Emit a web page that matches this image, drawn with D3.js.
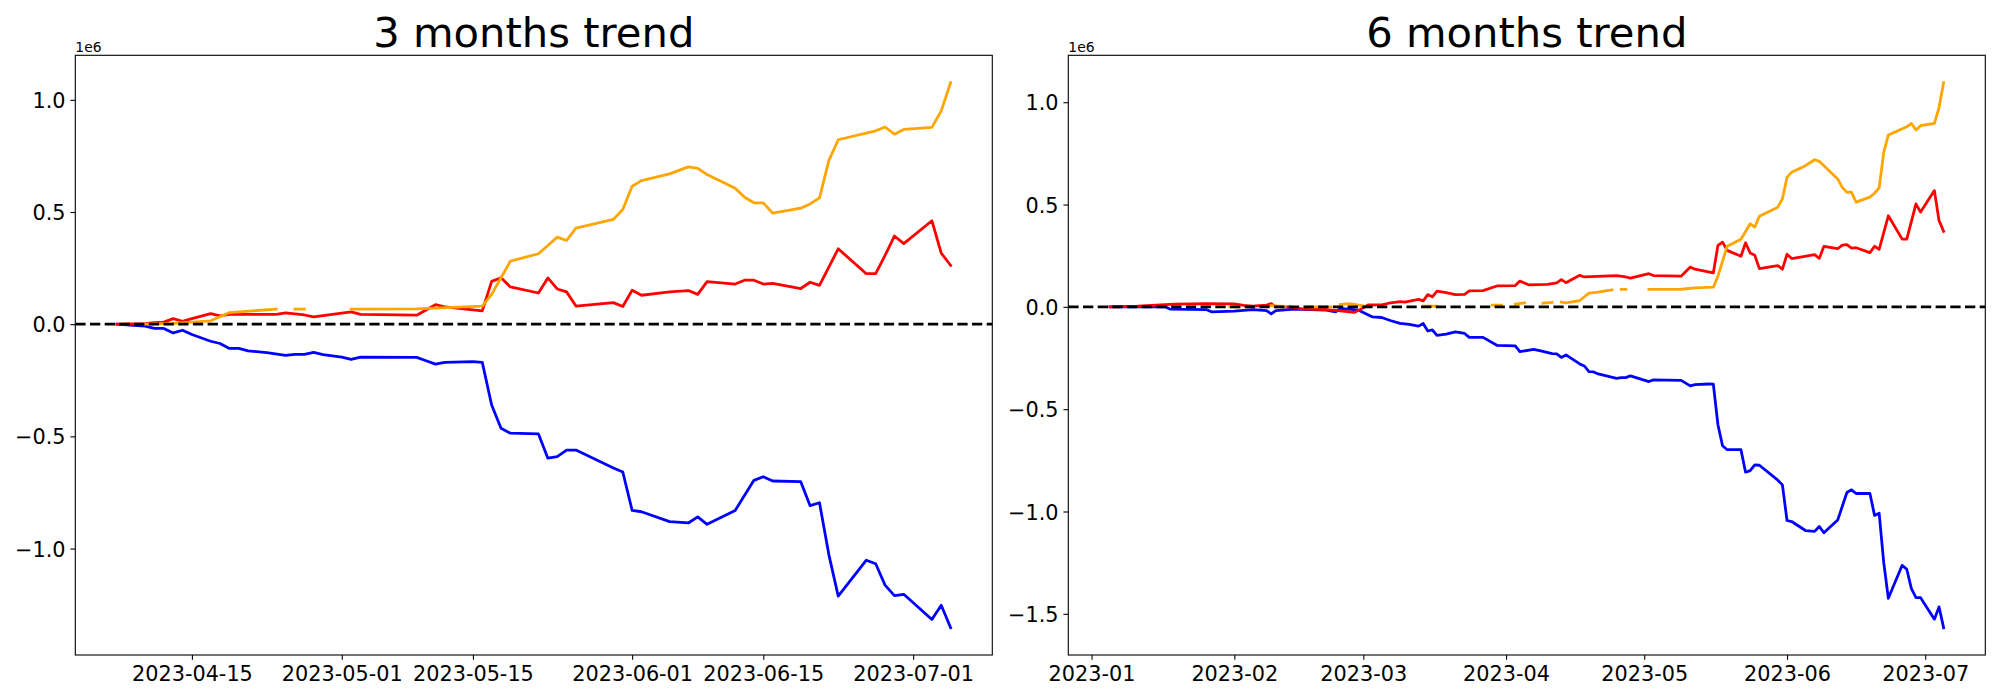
<!DOCTYPE html>
<html><head><meta charset="utf-8">
<script src="https://cdn.jsdelivr.net/npm/d3@7"></script>
<style>body{margin:0;background:#fff}svg{display:block}text{font-family:"DejaVu Sans",sans-serif}</style>
</head><body><svg id="c" width="2000" height="700"></svg>
<script>
// ---------- DATA (values in units of 1e6; days are offsets from the base date) ----------
const leftBase = "2023-04-07";
const leftTitle = "3 months trend";
const leftBlueDays = [0,1,3,4,5,6,7,8,10,11,12,13,14,16,18,19,20,21,22,24,25,26,32,33,34,35,38,39,40,41,42,45,46,47,48,49,53,54,55,56,59,61,62,63,66,68,69,70,73,74,75,76,77,80,81,82,83,84,87,88,89];
const leftBlueVals = [0,-0.003,-0.009,-0.019,-0.019,-0.039,-0.027,-0.046,-0.076,-0.086,-0.108,-0.108,-0.119,-0.127,-0.139,-0.135,-0.135,-0.126,-0.136,-0.147,-0.157,-0.147,-0.148,-0.163,-0.178,-0.170,-0.167,-0.170,-0.360,-0.464,-0.486,-0.489,-0.597,-0.590,-0.561,-0.561,-0.641,-0.659,-0.830,-0.836,-0.880,-0.886,-0.859,-0.892,-0.830,-0.696,-0.680,-0.699,-0.702,-0.809,-0.796,-1.027,-1.212,-1.052,-1.068,-1.163,-1.210,-1.204,-1.316,-1.253,-1.353];
const leftRedDays = [0,3,4,5,6,7,8,10,11,12,17,18,20,21,25,26,32,34,35,39,40,41,42,45,46,47,48,49,53,54,55,56,59,61,62,63,66,67,68,69,70,73,74,75,77,80,81,82,83,84,87,88,89];
const leftRedVals = [0,0.003,0.007,0.009,0.025,0.013,0.025,0.047,0.037,0.044,0.044,0.050,0.041,0.033,0.055,0.044,0.040,0.087,0.077,0.059,0.191,0.207,0.166,0.139,0.206,0.157,0.144,0.081,0.096,0.079,0.151,0.129,0.144,0.150,0.133,0.190,0.179,0.196,0.196,0.179,0.182,0.159,0.187,0.173,0.336,0.225,0.225,0.307,0.393,0.359,0.461,0.317,0.262];
const leftOrangeDays = [3,4,6,8,10,11,12,17,18,19,20,21,25,32,39,40,42,45,46,47,48,49,53,54,55,56,59,61,62,63,66,67,68,69,70,73,74,75,76,77,81,82,83,84,87,88,89];
const leftOrangeVals = [0.0,0.001,0.004,0.009,0.015,0.033,0.052,0.067,null,0.067,0.067,null,0.067,0.068,0.081,0.133,0.281,0.314,0.351,0.388,0.373,0.428,0.467,0.511,0.615,0.640,0.670,0.701,0.695,0.667,0.606,0.566,0.541,0.541,0.495,0.517,0.536,0.563,0.729,0.822,0.862,0.879,0.847,0.868,0.877,0.951,1.077];
const leftXTicks = ["2023-04-15","2023-05-01","2023-05-15","2023-06-01","2023-06-15","2023-07-01"];
const leftYTicks = [-1.0,-0.5,0.0,0.5,1.0];

const rightBase = "2023-01-01";
const rightTitle = "6 months trend";
const rightBlueDays = [4,10,16,17,25,26,31,35,38,39,40,44,51,53,54,58,61,63,65,67,69,71,72,73,74,75,77,79,81,82,85,88,92,93,96,98,100,101,102,103,106,107,108,109,110,114,115,116,117,121,122,128,130,131,134,135,136,137,138,141,142,143,144,145,149,150,151,152,155,157,158,159,162,164,165,166,169,170,171,172,173,176,177,178,179,180,183,184,185];
const rightBlueVals = [0,0,0,-0.011,-0.014,-0.024,-0.021,-0.014,-0.018,-0.034,-0.018,-0.011,-0.016,-0.024,-0.008,-0.016,-0.049,-0.052,-0.068,-0.081,-0.086,-0.094,-0.081,-0.118,-0.113,-0.139,-0.133,-0.122,-0.130,-0.149,-0.149,-0.188,-0.191,-0.219,-0.208,-0.218,-0.229,-0.230,-0.247,-0.235,-0.279,-0.289,-0.317,-0.318,-0.328,-0.349,-0.346,-0.346,-0.337,-0.365,-0.357,-0.359,-0.386,-0.380,-0.377,-0.378,-0.576,-0.679,-0.698,-0.698,-0.808,-0.800,-0.772,-0.774,-0.847,-0.870,-1.044,-1.049,-1.093,-1.097,-1.073,-1.104,-1.042,-0.907,-0.894,-0.912,-0.912,-1.019,-1.008,-1.250,-1.424,-1.263,-1.282,-1.377,-1.421,-1.421,-1.526,-1.466,-1.568];
const rightRedDays = [4,10,16,18,25,31,33,35,38,39,40,43,46,51,54,57,59,60,63,65,67,68,71,72,73,74,75,77,79,81,82,85,88,92,93,95,99,101,102,103,106,107,114,116,117,121,122,128,130,131,135,136,137,138,141,142,143,144,145,149,150,151,152,157,158,159,162,163,164,165,166,169,170,171,173,176,177,179,180,183,184,185];
const rightRedVals = [0,0.003,0.011,0.013,0.016,0.015,0.007,0.003,0.009,0.016,0.0,0.0,-0.011,-0.013,-0.020,-0.027,-0.005,0.009,0.010,0.020,0.025,0.023,0.037,0.029,0.060,0.049,0.077,0.070,0.060,0.061,0.078,0.079,0.102,0.104,0.126,0.107,0.110,0.117,0.133,0.118,0.154,0.146,0.153,0.146,0.140,0.162,0.153,0.150,0.195,0.184,0.166,0.300,0.316,0.276,0.247,0.313,0.263,0.252,0.187,0.201,0.184,0.257,0.236,0.255,0.237,0.295,0.284,0.302,0.304,0.287,0.289,0.265,0.296,0.281,0.445,0.331,0.331,0.503,0.463,0.568,0.422,0.369];
const rightOrangeDays = [30,32,33,39,42,43,47,52,53,54,56,58,59,60,72,75,76,87,89,90,92,94,95,98,100,101,102,103,106,108,110,113,114,115,116,117,121,128,131,135,136,138,141,143,144,145,149,150,151,152,155,157,158,162,163,164,165,166,169,170,171,172,173,177,178,179,180,183,184,185];
const rightOrangeVals = [0.0,0.0,null,0.006,0.002,null,0.0,0.0,null,0.012,0.016,0.008,0.005,null,0.004,0.004,null,0.008,0.008,null,0.013,0.020,null,0.018,0.022,null,0.023,0.020,0.031,0.067,0.072,0.083,null,0.085,0.085,null,0.085,0.086,0.093,0.096,0.150,0.296,0.330,0.406,0.390,0.443,0.487,0.528,0.633,0.658,0.690,0.719,0.711,0.625,0.584,0.560,0.560,0.512,0.536,0.555,0.581,0.755,0.840,0.880,0.896,0.864,0.885,0.896,0.974,1.096];
const rightXTicks = ["2023-01-01","2023-02-01","2023-03-01","2023-04-01","2023-05-01","2023-06-01","2023-07-01"];
const rightXLabels = ["2023-01","2023-02","2023-03","2023-04","2023-05","2023-06","2023-07"];
const rightYTicks = [-1.5,-1.0,-0.5,0.0,0.5,1.0];

const seriesColors = {blue:"#0000ff", red:"#ff0000", orange:"#ffa500"};

// ---------- DRAWING ----------
const svg = d3.select("#c");
svg.append("rect").attr("width",2000).attr("height",700).attr("fill","#fff");
const LW = 2.78, TK = 4.86, FS = 20.8;
const parse = d3.utcParse("%Y-%m-%d");

function panel(cfg, idx){
  const {x0,x1,y0,y1,base,series,xTicks,xLabels,yTicks,title} = cfg;
  const b = parse(base);
  const toDate = d => new Date(b.getTime() + d*864e5);
  const allDays = [], allVals = [];
  series.forEach(s => s.days.forEach((d,i)=>{allDays.push(d); if(s.vals[i]!=null) allVals.push(s.vals[i]);}));
  const dmin = d3.min(allDays), dmax = d3.max(allDays), pd = (dmax-dmin)*0.05;
  const vmin = d3.min(allVals), vmax = d3.max(allVals), pv = (vmax-vmin)*0.05;
  const x = d3.scaleUtc().domain([toDate(dmin-pd), toDate(dmax+pd)]).range([x0,x1]);
  const y = d3.scaleLinear().domain([vmin-pv, vmax+pv]).range([y1,y0]);

  const cid = "clip"+idx;
  svg.append("clipPath").attr("id",cid).append("rect").attr("x",x0).attr("y",y0).attr("width",x1-x0).attr("height",y1-y0);
  const g = svg.append("g").attr("clip-path",`url(#${cid})`);
  const line = d3.line().defined(p=>p.v!=null).x(p=>x(p.t)).y(p=>y(p.v));
  series.forEach(s=>{
    const pts = s.days.map((d,i)=>({t:toDate(d), v:s.vals[i]}));
    g.append("path").datum(pts).attr("d",line).attr("fill","none")
      .attr("stroke",s.color).attr("stroke-width",LW)
      .attr("stroke-linejoin","round").attr("stroke-linecap","square");
  });
  g.append("line").attr("x1",x0).attr("x2",x1).attr("y1",y(0)).attr("y2",y(0))
    .attr("stroke","#000").attr("stroke-width",LW).attr("stroke-dasharray","10.3,4.4");

  const gx = svg.append("g").attr("transform",`translate(0,${y1})`)
    .call(d3.axisBottom(x).tickValues(xTicks.map(parse)).tickFormat((d,i)=>xLabels[i]).tickSizeOuter(0).tickSize(TK).tickPadding(TK));
  gx.select(".domain").remove();
  gx.selectAll("line").attr("stroke","#000").attr("stroke-width",1.1);
  gx.selectAll("text").attr("font-size",FS).attr("fill","#000").attr("y",2*TK).attr("dy","0.77em").attr("font-family","DejaVu Sans");

  const gy = svg.append("g").attr("transform",`translate(${x0},0)`)
    .call(d3.axisLeft(y).tickValues(yTicks).tickFormat(d3.format(".1f")).tickSizeOuter(0).tickSize(TK).tickPadding(TK));
  gy.select(".domain").remove();
  gy.selectAll("line").attr("stroke","#000").attr("stroke-width",1.1);
  gy.selectAll("text").attr("font-size",FS).attr("fill","#000").attr("x",-2*TK).attr("dy","0.36em").attr("font-family","DejaVu Sans");

  svg.append("rect").attr("x",x0).attr("y",y0).attr("width",x1-x0).attr("height",y1-y0)
    .attr("fill","none").attr("stroke","#000").attr("stroke-width",1.1);

  svg.append("text").attr("x",(x0+x1)/2).attr("y",y0-8.3).attr("text-anchor","middle")
    .attr("font-size",41.7).attr("fill","#000").text(title);
  svg.append("text").attr("x",x0).attr("y",y0-3.5).attr("font-size",13.9).attr("fill","#000").text("1e6");
}

panel({x0:75.3,x1:992.3,y0:55.3,y1:655,base:leftBase,title:leftTitle,
  series:[{days:leftBlueDays,vals:leftBlueVals,color:seriesColors.blue},
          {days:leftRedDays,vals:leftRedVals,color:seriesColors.red},
          {days:leftOrangeDays,vals:leftOrangeVals,color:seriesColors.orange}],
  xTicks:leftXTicks,xLabels:leftXTicks,yTicks:leftYTicks},0);
panel({x0:1068.3,x1:1985.3,y0:55.3,y1:655,base:rightBase,title:rightTitle,
  series:[{days:rightBlueDays,vals:rightBlueVals,color:seriesColors.blue},
          {days:rightRedDays,vals:rightRedVals,color:seriesColors.red},
          {days:rightOrangeDays,vals:rightOrangeVals,color:seriesColors.orange}],
  xTicks:rightXTicks,xLabels:rightXLabels,yTicks:rightYTicks},1);
</script></body></html>
